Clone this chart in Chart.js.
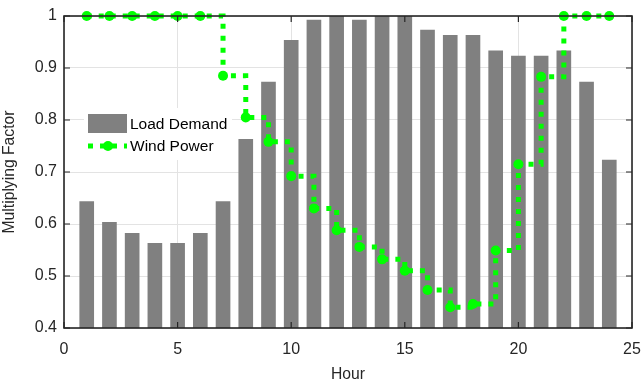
<!DOCTYPE html>
<html>
<head>
<meta charset="utf-8">
<script src="https://cdn.jsdelivr.net/npm/chart.js@4/dist/chart.umd.min.js"></script>
<style>
html,body{margin:0;padding:0;background:#fff;}
#wrap{width:643px;height:384px;}
</style>
</head>
<body>
<div id="wrap"><canvas id="grafico"></canvas></div>
<script>
// datos
var horas = [1,2,3,4,5,6,7,8,9,10,11,12,13,14,15,16,17,18,19,20,21,22,23,24];
var carga = [0.643,0.603,0.582,0.563,0.563,0.582,0.643,0.763,0.873,0.953,0.992,1.0,0.992,1.0,1.0,0.973,0.963,0.963,0.933,0.923,0.923,0.933,0.873,0.723];
var viento = [1,1,1,1,1,1,0.885,0.805,0.758,0.692,0.63,0.588,0.556,0.532,0.51,0.473,0.44,0.446,0.549,0.715,0.883,1,1,1];
var ticksX = [0,5,10,15,20,25];
var ticksY = [0.4,0.5,0.6,0.7,0.8,0.9,1];
var etiquetas = ["Load Demand","Wind Power"];

var verde = "#00ff00";
var gris = "#808080";
var fuente = "'Liberation Sans', Arial, sans-serif";

var puntosCarga = horas.map(function(h,i){ return {x:h, y:carga[i]}; });
var puntosViento = horas.map(function(h,i){ return {x:h, y:viento[i]}; });

//// marco, ticks hacia dentro y leyenda
var marco = {
  id: 'marco',
  beforeDatasetsDraw: function(chart){
    var c = chart.ctx;
    // fondo de la leyenda tapa la rejilla
    c.save();
    c.fillStyle = '#fff';
    c.fillRect(84, 108, 148, 52);
    c.restore();
  },
  afterDatasetsDraw: function(chart){
    var a = chart.chartArea, c = chart.ctx;
    var sx = chart.scales.x, sy = chart.scales.y;
    c.save();
    c.strokeStyle = '#262626';
    c.lineWidth = 1.6;
    c.strokeRect(a.left, a.top, a.right-a.left, a.bottom-a.top);
    c.lineWidth = 1.2;
    c.beginPath();
    ticksX.forEach(function(t){
      var px = sx.getPixelForValue(t);
      c.moveTo(px, a.bottom); c.lineTo(px, a.bottom-6);
      c.moveTo(px, a.top); c.lineTo(px, a.top+6);
    });
    ticksY.forEach(function(t){
      var py = sy.getPixelForValue(t);
      c.moveTo(a.left, py); c.lineTo(a.left+6, py);
      c.moveTo(a.right, py); c.lineTo(a.right-6, py);
    });
    c.stroke();

    // leyenda
    c.fillStyle = gris;
    c.fillRect(88, 114, 39, 19);
    c.strokeStyle = verde;
    c.lineWidth = 5;
    c.setLineDash([5,7]);
    c.beginPath();
    c.moveTo(88, 146); c.lineTo(127, 146);
    c.stroke();
    c.setLineDash([]);
    c.fillStyle = verde;
    c.beginPath();
    c.arc(108, 146, 5, 0, Math.PI*2);
    c.fill();
    c.fillStyle = '#000';
    c.font = '15.5px ' + fuente;
    c.textBaseline = 'middle';
    c.fillText(etiquetas[0], 130, 125);
    c.fillText(etiquetas[1], 130, 147);
    c.restore();
  }
};

var ctx = document.getElementById('grafico').getContext('2d');
var myChart = new Chart(ctx, {
  data: {
    datasets: [
      {
        type: 'line',
        label: etiquetas[1],
        data: puntosViento,
        stepped: true,
        borderColor: verde,
        backgroundColor: verde,
        borderWidth: 5,
        borderDash: [5,7],
        borderCapStyle: 'butt',
        pointRadius: 5,
        pointBorderWidth: 0,
        pointBackgroundColor: verde,
        fill: false,
        clip: false,
        order: 0
      },
      {
        type: 'bar',
        label: etiquetas[0],
        data: puntosCarga,
        backgroundColor: gris,
        borderWidth: 0,
        barThickness: 14,
        order: 1
      }
    ]
  },
  plugins: [marco],
  options: {
    responsive: true,
    maintainAspectRatio: false,
    animation: false,
    layout: { padding: { top: 16, right: 11, left: 0, bottom: 0 } },
    plugins: { legend: { display: false }, tooltip: { enabled: false } },
    scales: {
      x: {
        type: 'linear',
        min: 0, max: 25,
        offset: false,
        afterBuildTicks: function(s){ s.ticks = ticksX.map(function(v){ return {value:v}; }); },
        afterFit: function(s){ s.height = 56; s.paddingLeft = 0; s.paddingRight = 0; },
        grid: { color: '#e3e3e3', drawTicks: false, lineWidth: 1, offset: false },
        border: { display: false },
        ticks: { color: '#262626', font: { family: fuente, size: 16 }, padding: 12, maxRotation: 0 },
        title: { display: true, text: 'Hour', color: '#262626', font: { family: fuente, size: 15.7 }, padding: { top: 0, bottom: 0 } }
      },
      y: {
        min: 0.4, max: 1,
        afterBuildTicks: function(s){ s.ticks = ticksY.map(function(v){ return {value:v}; }); },
        afterFit: function(s){ s.width = 64; s.paddingTop = 0; s.paddingBottom = 0; },
        grid: { color: '#e3e3e3', drawTicks: false, lineWidth: 1 },
        border: { display: false },
        ticks: { color: '#262626', font: { family: fuente, size: 16 }, padding: 7,
          callback: function(v){ return v == 1 ? '1' : v.toFixed(1); } },
        title: { display: true, text: 'Multiplying Factor', color: '#262626', font: { family: fuente, size: 15.7 }, padding: { top: 0, bottom: 2 } }
      }
    }
  }
});
</script>
</body>
</html>
